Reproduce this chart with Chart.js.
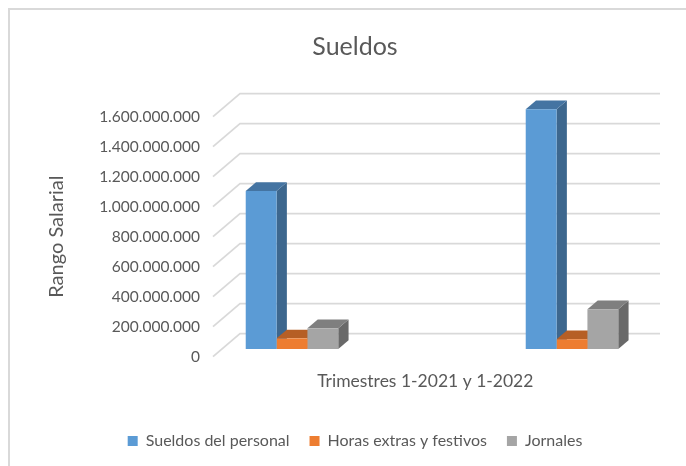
<!DOCTYPE html>
<html>
<head>
<meta charset="utf-8">
<script src="https://cdn.jsdelivr.net/npm/chart.js@4/dist/chart.umd.min.js"></script>
<style>
  html, body { margin: 0; padding: 0; background: #fff; }
  canvas { display: block; }
</style>
</head>
<body>
<canvas id="myChart" width="686" height="466"></canvas>
<script>
// ------------------------Data------------------------------------
// the middle category is empty in the original, that is why the groups sit so far apart
const categories = ["1-2021", "", "1-2022"]
const sueldos = [1053000000, null, 1598000000]
const horasExtras = [71000000, null, 65000000]
const jornales = [138000000, null, 265000000]
const seriesNames = ["Sueldos del personal", "Horas extras y festivos", "Jornales"]
const yTicks = [0, 200000000, 400000000, 600000000, 800000000, 1000000000, 1200000000, 1400000000, 1600000000]

// ------------------------Colors------------------------------------
const textColor = "#595959"
const gridColor = "#D9D9D9"
const frontColors = ["#5B9BD5", "#ED7D31", "#A5A5A5"]
const topColors = ["#4474A2", "#B65F25", "#7F7F7F"]
const sideColors = ["#3D678E", "#9E5220", "#696969"]

const fontFamily = "Lato, 'Open Sans', sans-serif"

// ------------------------3D look------------------------------------
// Chart.js has no 3D bars so floor, wall and bar sides are added around the scales
const backX = 18, backY = -15.3
const frontX = -9, frontY = 7.7
const depthX = 10.3, depthY = -8.7

const polygon = (ctx, color, pts) => {
  ctx.fillStyle = color
  ctx.beginPath()
  pts.forEach((p, i) => i === 0 ? ctx.moveTo(p[0], p[1]) : ctx.lineTo(p[0], p[1]))
  ctx.closePath()
  ctx.fill()
}

const wallPlugin = {
  id: "wall",
  beforeDraw(chart) {
    const ctx = chart.ctx
    ctx.save()
    ctx.fillStyle = "#fff"
    ctx.fillRect(0, 0, chart.width, chart.height)
    // outer frame, only top and left fall inside the picture
    ctx.strokeStyle = gridColor
    ctx.lineWidth = 2
    ctx.strokeRect(9, 9, 800, 800)
    ctx.restore()
  },
  beforeDatasetsDraw(chart) {
    const ctx = chart.ctx
    const { left, right } = chart.chartArea
    const y = chart.scales.y
    ctx.save()
    ctx.strokeStyle = gridColor
    ctx.lineWidth = 1.7
    yTicks.forEach((v) => {
      const py = y.getPixelForValue(v)
      ctx.beginPath()
      ctx.moveTo(left + frontX, py + frontY)
      ctx.lineTo(left + backX, py + backY)
      ctx.lineTo(right + backX, py + backY)
      ctx.stroke()
    })

    // bar sides go first, the library paints the front faces over them
    chart.data.datasets.forEach((ds, i) => {
      chart.getDatasetMeta(i).data.forEach((bar, j) => {
        if (ds.data[j] === null) return
        const l = bar.x - bar.width / 2
        const r = bar.x + bar.width / 2
        polygon(ctx, sideColors[i], [[r, bar.y], [r + depthX, bar.y + depthY], [r + depthX, bar.base + depthY], [r, bar.base]])
        polygon(ctx, topColors[i], [[l, bar.y], [l + depthX, bar.y + depthY], [r + depthX, bar.y + depthY], [r, bar.y]])
      })
    })
    ctx.restore()
  }
}

// ------------------------Initialize Chart------------------------------------
const chartConfig = {
  type: "bar",
  data: {
    labels: categories,
    datasets: [
      { label: seriesNames[0], data: sueldos, backgroundColor: frontColors[0] },
      { label: seriesNames[1], data: horasExtras, backgroundColor: frontColors[1] },
      { label: seriesNames[2], data: jornales, backgroundColor: frontColors[2] }
    ]
  },
  options: {
    responsive: false,
    animation: false,
    datasets: { bar: { barPercentage: 1, categoryPercentage: 0.661 } },
    layout: { padding: { left: 41, right: 17, top: 0, bottom: 7 } },
    plugins: {
      tooltip: { enabled: false },
      title: {
        display: true,
        text: "Sueldos",
        color: textColor,
        font: { family: fontFamily, size: 25, weight: "normal" },
        padding: { top: 32, bottom: 47 }
      },
      legend: {
        position: "bottom",
        labels: {
          color: textColor,
          font: { family: fontFamily, size: 16 },
          boxWidth: 10,
          boxHeight: 10,
          padding: 20
        }
      }
    },
    scales: {
      x: {
        grid: { display: false },
        border: { display: false },
        ticks: { display: false },
        title: {
          display: true,
          // trailing spaces pull the title left, it is not centered on the plot in the original
          text: "Trimestres 1-2021 y 1-2022   ",
          color: textColor,
          font: { family: fontFamily, size: 17.5 },
          padding: { top: 0, bottom: 21 }
        },
        afterFit: (scale) => { scale.height = 64 }
      },
      y: {
        min: 0,
        max: 1600000000,
        grid: { display: false },
        border: { display: false },
        ticks: {
          stepSize: 200000000,
          color: textColor,
          padding: 14,
          labelOffset: 8,
          font: { family: fontFamily, size: 15.5 },
          callback: (v) => v.toLocaleString("de-DE")
        },
        title: {
          display: true,
          text: "Rango Salarial   ",
          color: textColor,
          font: { family: fontFamily, size: 20 }
        },
        afterFit: (scale) => { scale.width = 181 }
      },
      // empty axis, only keeps the plot short on the right so title and legend center like the original
      spacer: {
        position: "right",
        grid: { display: false },
        border: { display: false },
        ticks: { display: false },
        afterFit: (scale) => { scale.width = 27 }
      }
    }
  },
  plugins: [wallPlugin]
}
const myChart = new Chart(document.getElementById("myChart"), chartConfig)
</script>
</body>
</html>
